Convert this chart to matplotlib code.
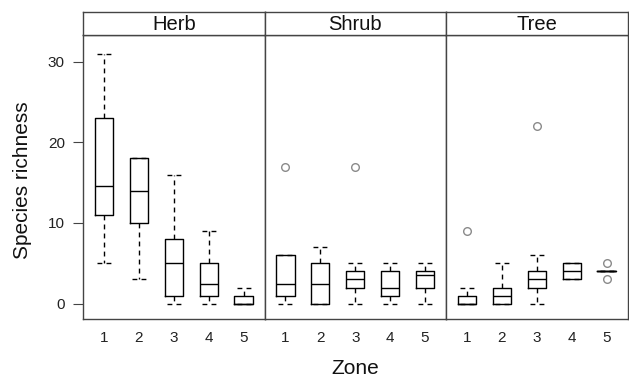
import matplotlib
matplotlib.use("Agg")
import matplotlib.pyplot as plt

plt.rcParams['font.family'] = ['Liberation Sans', 'DejaVu Sans']

panels = ["Herb", "Shrub", "Tree"]
zones = ["1", "2", "3", "4", "5"]

# per zone: (whisker low, q1, median, q3, whisker high)
herb_stats = [(5, 11, 14.6, 23, 31), (3, 10, 14, 18, 18), (0, 1, 5, 8, 16),
              (0, 1, 2.5, 5, 9), (0, 0, 0, 1, 2)]
shrub_stats = [(0, 1, 2.5, 6, 6), (0, 0, 2.5, 5, 7), (0, 2, 3, 4, 5),
               (0, 1, 2, 4, 5), (0, 2, 3.5, 4, 5)]
tree_stats = [(0, 0, 0, 1, 2), (0, 0, 1, 2, 5), (0, 2, 3, 4, 6),
              (3, 3, 4, 5, 5), (4, 4, 4, 4, 4)]

herb_out = [[], [], [], [], []]
shrub_out = [[17], [], [17], [], []]
tree_out = [[9], [], [22], [], [3, 5]]

all_stats = [herb_stats, shrub_stats, tree_stats]
all_out = [herb_out, shrub_out, tree_out]

W, H = 629, 380
fig = plt.figure(figsize=(W / 100, H / 100), dpi=100)

x0, x1 = 83, 627.5
ytop, ybot = 35, 319
strip_top = 12
pw = (x1 - x0) / 3
frame_col = "#444444"
dash = (0, (3.5, 3))

for i, name in enumerate(panels):
    left = (x0 + i * pw) / W
    ax = fig.add_axes([left, (H - ybot) / H, pw / W, (ybot - ytop) / H])
    sax = fig.add_axes([left, (H - ytop) / H, pw / W, (ytop - strip_top) / H])

    stats = []
    for (wl, q1, med, q3, wh), fl in zip(all_stats[i], all_out[i]):
        stats.append(dict(whislo=wl, q1=q1, med=med, q3=q3, whishi=wh, fliers=fl))
    ax.bxp(stats, positions=range(1, 6), widths=0.52, capwidths=0.4,
           boxprops=dict(color="black", linewidth=1.0),
           medianprops=dict(color="black", linewidth=1.0),
           whiskerprops=dict(color="black", linewidth=1.0, linestyle=dash),
           capprops=dict(color="black", linewidth=1.0, linestyle=dash),
           flierprops=dict(marker="o", markerfacecolor="none",
                           markeredgecolor="#8a8a8a", markersize=5.5,
                           markeredgewidth=1.0))
    ax.set_xlim(0.4, 5.6)
    ax.set_ylim(-1.9, 33.3)
    ax.set_xticks(range(1, 6))
    ax.set_xticklabels(zones)
    ax.tick_params(axis="x", length=0, pad=9, labelsize=11, colors="#222222")
    ax.set_yticks([0, 10, 20, 30])
    if i == 0:
        ax.tick_params(axis="y", length=7, pad=6, labelsize=11,
                       color=frame_col, labelcolor="#222222")
    elif i == 2:
        ax.yaxis.tick_right()
        ax.tick_params(axis="y", length=4, labelright=False, color=frame_col)
    else:
        ax.tick_params(axis="y", length=0, labelleft=False)
    for s in ax.spines.values():
        s.set_color(frame_col)
        s.set_linewidth(1.0)

    sax.set_xticks([])
    sax.set_yticks([])
    for s in sax.spines.values():
        s.set_color(frame_col)
        s.set_linewidth(1.0)
    sax.text(0.5, 0.45, name, ha="center", va="center", fontsize=14.5,
             transform=sax.transAxes, color="#111111")

fig.text(23 / W, 1 - 180 / H, "Species richness", rotation=90,
         ha="center", va="center", fontsize=15, color="#111111")
fig.text((x0 + x1) / 2 / W, 1 - 369 / H, "Zone", ha="center", va="center",
         fontsize=15, color="#111111")

fig.savefig("out.png", dpi=100)
